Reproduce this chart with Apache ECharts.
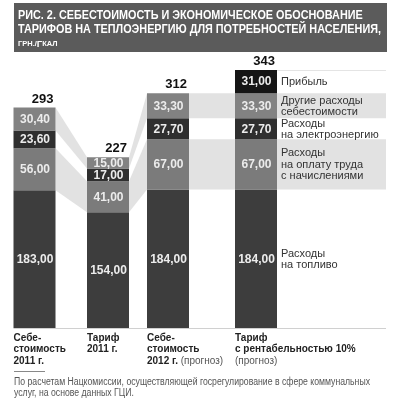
<!DOCTYPE html>
<html><head><meta charset="utf-8">
<script src="https://cdn.jsdelivr.net/npm/echarts@6/dist/echarts.min.js"></script>
<style>html,body{margin:0;padding:0;background:#fff}#c{width:400px;height:400px}</style>
</head><body><div id="c"></div>
<script>
// ---- data ----
const categoryLabels = [
  'Себе-\nстоимость\n2011 г.',
  'Тариф\n2011 г.',
  'Себе-\nстоимость\n2012 г. {n|(прогноз)}',
  'Тариф\nс рентабельностью 10%\n{n|(прогноз)}'
];
const fuel        = [183, 154, 184, 184];
const labour      = [56, 41, 67, 67];
const electricity = [23.6, 17, 27.7, 27.7];
const other       = [30.4, 15, 33.3, 33.3];
const profit      = [0, 0, 0, 31];
const totals      = [293, 227, 312, 343];
const segmentNames = [
  'Расходы\nна топливо',
  'Расходы\nна оплату труда\nс начислениями',
  'Расходы\nна электроэнергию',
  'Другие расходы\nсебестоимости',
  'Прибыль'
];
const titleLines = [
  'РИС. 2. СЕБЕСТОИМОСТЬ И ЭКОНОМИЧЕСКОЕ ОБОСНОВАНИЕ',
  'ТАРИФОВ НА ТЕПЛОЭНЕРГИЮ ДЛЯ ПОТРЕБНОСТЕЙ НАСЕЛЕНИЯ,'
];
const unitLabel = '{a|ГРН./}{b|Г}{a|КАЛ}';
const footnoteLines = [
  'По расчетам Нацкомиссии, осуществляющей госрегулирование в сфере коммунальных',
  'услуг, на основе данных ГЦИ.'
];
const yMax = 343;

// ---- layout / style ----
const FONT = '"Liberation Sans", Arial, Helvetica, sans-serif';
const segments = [fuel, labour, electricity, other, profit];
const segColors = ['#3d3d3d', '#7b7b7b', '#2f2f2f', '#828282', '#151515'];
const BAR_CENTERS = [34.5, 108, 168, 256];
const BAR_W = 42;
const X_END = 386;
const LEGEND_X = 281;
const BAND_COLOR = '#e2e2e2';

const starts = segments.map(() => []);
for (let b = 0; b < 4; b++) {
  let acc = 0;
  for (let s = 0; s < segments.length; s++) { starts[s][b] = acc; acc += segments[s][b]; }
}
const fmt = v => v.toFixed(2).replace('.', ',');

function measure(text, font) {
  const ctx = document.createElement('canvas').getContext('2d');
  ctx.font = font;
  return ctx.measureText(text).width;
}

const chart = echarts.init(document.getElementById('c'), null, {renderer: 'canvas'});

function barSeries(s) {
  const data = [];
  for (let b = 0; b < 4; b++) {
    const v = segments[s][b];
    if (v > 0) data.push([b, starts[s][b], starts[s][b] + v, v]);
  }
  return {
    type: 'custom', z: 3, data, silent: true,
    renderItem: (params, api) => {
      const b = api.value(0), lo = api.value(1), hi = api.value(2), v = api.value(3);
      const xc = BAR_CENTERS[b];
      const pLo = api.coord([xc, lo]), pHi = api.coord([xc, hi]);
      const w = api.size([BAR_W, 0])[0];
      return {type: 'group', children: [
        {type: 'rect', shape: {x: pLo[0] - w / 2, y: pHi[1], width: w, height: pLo[1] - pHi[1]},
         style: {fill: segColors[s]}},
        {type: 'text', z2: 5, style: {text: fmt(v), x: pLo[0] + 0.5, y: (pLo[1] + pHi[1]) / 2 + 0.5,
          align: 'center', verticalAlign: 'middle', font: 'bold 12px ' + FONT, fill: '#ececec'}}
      ]};
    }
  };
}

const bandData = [];
[1, 3].forEach(s => { for (let b = 0; b < 3; b++) bandData.push([s, b]); });

const bandSeries = {
  type: 'custom', z: 1, silent: true, data: bandData,
  renderItem: (params, api) => {
    const s = api.value(0), b = api.value(1);
    const seg = segments[s];
    let x1, x2, a, c;
    if (b < 2) { x1 = BAR_CENTERS[b] + BAR_W / 2; x2 = BAR_CENTERS[b + 1] - BAR_W / 2; a = b; c = b + 1; }
    else { x1 = BAR_CENTERS[2] + BAR_W / 2; x2 = X_END; a = 2; c = 3; }
    const pts = [
      api.coord([x1, starts[s][a] + seg[a]]),
      api.coord([x2, starts[s][c] + seg[c]]),
      api.coord([x2, starts[s][c]]),
      api.coord([x1, starts[s][a]])
    ];
    return {type: 'polygon', shape: {points: pts}, style: {fill: BAND_COLOR}};
  }
};

const legendSeries = {
  type: 'custom', z: 4, silent: true, data: segmentNames.map((n, i) => [i]),
  renderItem: (params, api) => {
    const s = api.value(0);
    const mid = starts[s][3] + segments[s][3] / 2;
    const p = api.coord([LEGEND_X, mid]);
    return {type: 'text', style: {text: segmentNames[s], x: p[0], y: p[1] + 0.5, align: 'left',
      verticalAlign: 'middle', font: '11px ' + FONT, lineHeight: 11.5, fill: '#333'}};
  }
};

const totalSeries = {
  type: 'custom', z: 4, silent: true, data: totals.map((t, i) => [i, t]),
  renderItem: (params, api) => {
    const b = api.value(0), t = api.value(1);
    const p = api.coord([BAR_CENTERS[b] + BAR_W / 2 - 2, t]);
    return {type: 'text', style: {text: String(t), x: p[0], y: p[1] - 2, align: 'right',
      verticalAlign: 'bottom', font: 'bold 13px ' + FONT, fill: '#111'}};
  }
};

const catSeries = {
  type: 'custom', z: 4, silent: true, data: categoryLabels.map((c, i) => [i]),
  renderItem: (params, api) => {
    const b = api.value(0);
    const p = api.coord([BAR_CENTERS[b] - BAR_W / 2, 0]);
    return {type: 'text', style: {text: categoryLabels[b], x: p[0], y: p[1] + 4, align: 'left',
      verticalAlign: 'top', font: 'bold 10px ' + FONT, lineHeight: 11.5, fill: '#222',
      rich: {n: {font: '10px ' + FONT, fill: '#555', lineHeight: 11.5}}}};
  }
};

const ruleSeries = {
  type: 'custom', z: 2, silent: true, data: [[0, 0], [1, yMax]],
  renderItem: (params, api) => {
    const i = api.value(0), v = api.value(1);
    const xStart = i === 0 ? BAR_CENTERS[0] - BAR_W / 2 : BAR_CENTERS[3] - BAR_W / 2;
    const p1 = api.coord([xStart, v]), p2 = api.coord([X_END, v]);
    return {type: 'line', shape: {x1: p1[0], y1: p1[1] + 0.5, x2: p2[0], y2: p2[1] + 0.5},
      style: {stroke: i === 0 ? '#d0d0d0' : '#e4e4e4', lineWidth: 1}};
  }
};

// title sizing
const titleFont = 'bold 12.5px ' + FONT;
const tScale = 363 / measure(titleLines[1], titleFont);
const footFont = '10px ' + FONT;
const fScale = 356 / measure(footnoteLines[0], footFont);

chart.setOption({
  animation: false,
  backgroundColor: '#fff',
  grid: {left: 0, right: 0, top: 70, bottom: 72},
  xAxis: {type: 'value', min: 0, max: 400, show: false},
  yAxis: {type: 'value', min: 0, max: yMax, show: false},
  graphic: [
    {type: 'rect', shape: {x: 14, y: 3, width: 373, height: 49}, style: {fill: '#5b5b5b'}},
    {type: 'text', x: 18, y: 16, scaleX: tScale, style: {text: titleLines[0], font: titleFont, fill: '#fff', verticalAlign: 'middle'}},
    {type: 'text', x: 18, y: 30, scaleX: tScale, style: {text: titleLines[1], font: titleFont, fill: '#fff', verticalAlign: 'middle'}},
    {type: 'text', x: 18, y: 44, style: {text: unitLabel, fill: '#fff', verticalAlign: 'middle',
      rich: {a: {font: 'bold 7.5px ' + FONT, fill: '#fff'}, b: {font: 'bold 9.5px ' + FONT, fill: '#fff'}}}},
    {type: 'line', shape: {x1: 14, y1: 371.5, x2: 45, y2: 371.5}, style: {stroke: '#888', lineWidth: 1}},
    {type: 'text', x: 14, y: 382.5, scaleX: fScale, style: {text: footnoteLines[0], font: footFont, fill: '#555', verticalAlign: 'middle'}},
    {type: 'text', x: 14, y: 393.5, scaleX: fScale, style: {text: footnoteLines[1], font: footFont, fill: '#555', verticalAlign: 'middle'}}
  ],
  series: [bandSeries, ruleSeries, ...segments.map((_, s) => barSeries(s)), legendSeries, totalSeries, catSeries]
});
</script>
</body></html>
